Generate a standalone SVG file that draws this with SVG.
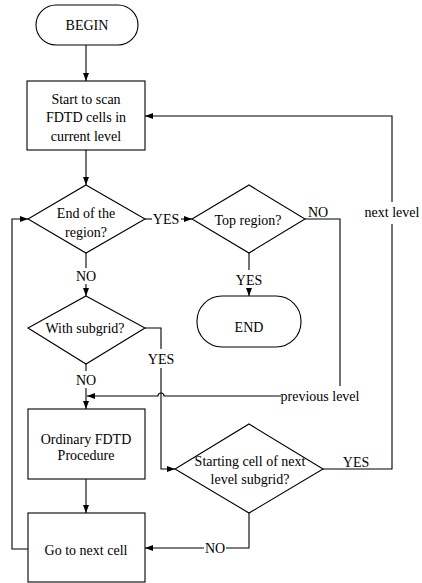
<svg xmlns="http://www.w3.org/2000/svg" width="422" height="583" viewBox="0 0 422 583">
<style>
.s{fill:#fff;stroke:#000;stroke-width:1.1}
.c{fill:none;stroke:#000;stroke-width:1.1}
text{font-family:"Liberation Serif","Times New Roman",serif;font-size:14px;fill:#000;text-anchor:middle}
</style>
<defs>
<marker id="a" markerUnits="userSpaceOnUse" markerWidth="8" markerHeight="6" refX="8" refY="3" orient="auto">
<path d="M0,0 L8,3 L0,6 z" fill="#000"/>
</marker>
</defs>
<rect width="422" height="583" fill="#fff"/>
<g id="connectors">
<path class="c" d="M86,45 V81" marker-end="url(#a)"/>
<path class="c" d="M86,150 V185" marker-end="url(#a)"/>
<path class="c" d="M86,253 V268"/>
<path class="c" d="M86,284 V296" marker-end="url(#a)"/>
<path class="c" d="M145,219 H152"/>
<path class="c" d="M181,219 H192" marker-end="url(#a)"/>
<path class="c" d="M249,253 V270"/>
<path class="c" d="M249,289 V296" marker-end="url(#a)"/>
<path class="c" d="M305,219 H340 V386"/>
<path class="c" d="M281,396 H164 A3,3 0 0 0 158,396 H87" marker-end="url(#a)"/>
<path class="c" d="M145,328 H161 V349"/>
<path class="c" d="M161,368 V469 H175" marker-end="url(#a)"/>
<path class="c" d="M86,364 V371"/>
<path class="c" d="M86,388 V409" marker-end="url(#a)"/>
<path class="c" d="M86,479 V513" marker-end="url(#a)"/>
<path class="c" d="M28,549 H12 V219 H28" marker-end="url(#a)"/>
<path class="c" d="M323,469 H392 V224"/>
<path class="c" d="M392,202 V116 H145" marker-end="url(#a)"/>
<path class="c" d="M249,513 V548 H226"/>
<path class="c" d="M204,548 H145" marker-end="url(#a)"/>
<text x="86" y="281">NO</text>
<text x="166" y="224">YES</text>
<text x="249" y="285">YES</text>
<text x="318" y="217">NO</text>
<text x="320" y="401">previous level</text>
<text x="161" y="364">YES</text>
<text x="86" y="385">NO</text>
<text x="356" y="467">YES</text>
<text x="392" y="217">next level</text>
<text x="215" y="553">NO</text>
</g>
<g id="begin">
<rect class="s" x="36" y="5" width="102" height="40" rx="20" ry="20"/>
<text x="87" y="30">BEGIN</text>
</g>
<g id="scan">
<rect class="s" x="27" y="81" width="118" height="69"/>
<text x="86" y="104">Start to scan</text>
<text x="86" y="122">FDTD cells in</text>
<text x="86" y="141">current level</text>
</g>
<g id="endregion">
<polygon class="s" points="86,185 145,219 86,253 28,219"/>
<text x="86" y="218">End of the</text>
<text x="86" y="237">region?</text>
</g>
<g id="topregion">
<polygon class="s" points="249,185 305,219 249,253 192,219"/>
<text x="248" y="225">Top region?</text>
</g>
<g id="end">
<rect class="s" x="197" y="296" width="104" height="51" rx="25" ry="25"/>
<text x="249" y="332">END</text>
</g>
<g id="subgrid">
<polygon class="s" points="86,296 145,328 86,364 28,328"/>
<text x="85" y="333">With subgrid?</text>
</g>
<g id="ordinary">
<rect class="s" x="28" y="409" width="117" height="70"/>
<text x="86" y="444">Ordinary FDTD</text>
<text x="86" y="460">Procedure</text>
</g>
<g id="starting">
<polygon class="s" points="249,424 323,469 249,513 175,469"/>
<text x="250" y="466">Starting cell of next</text>
<text x="250" y="484">level subgrid?</text>
</g>
<g id="nextcell">
<rect class="s" x="28" y="513" width="117" height="69"/>
<text x="86" y="555">Go to next cell</text>
</g>
</svg>
